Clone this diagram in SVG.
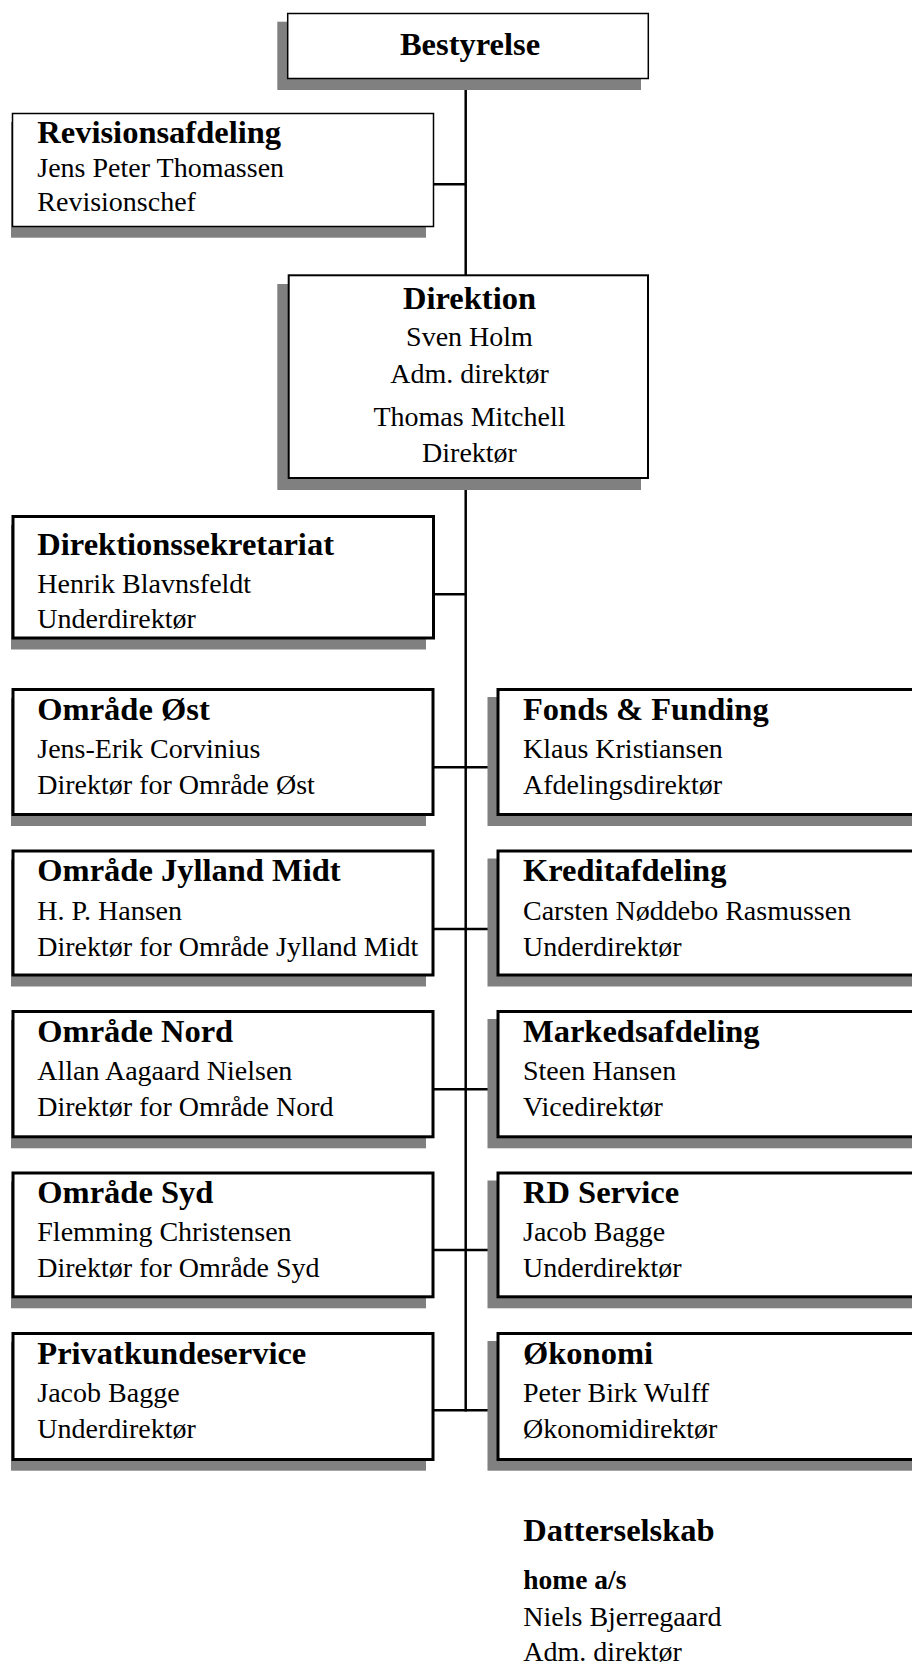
<svg xmlns="http://www.w3.org/2000/svg" width="912" height="1665" viewBox="0 0 912 1665">
<style>
.bg{fill:#ffffff}
.sh{fill:#808080}
.box{fill:#ffffff;stroke:#000000}
.thin{stroke-width:1.5}
.mid{stroke-width:2}
.thick{stroke-width:3}
.conn{stroke:#000000;stroke-width:2.5;fill:none}
text{font-family:"Liberation Serif","Times New Roman",serif;fill:#000000}
.t{font-size:32.5px;font-weight:bold}
.b{font-size:28px}
.hb{font-size:27.5px;font-weight:bold}
.c{text-anchor:middle}
</style>
<rect class="bg" x="0" y="0" width="912" height="1665"/>
<g id="connectors">
<line class="conn" x1="465.7" y1="79" x2="465.7" y2="1411.5"/>
<line class="conn" x1="433" y1="184.3" x2="465.7" y2="184.3"/>
<line class="conn" x1="433" y1="594.3" x2="465.7" y2="594.3"/>
<line class="conn" x1="433" y1="767.3" x2="498" y2="767.3"/>
<line class="conn" x1="433" y1="929" x2="498" y2="929"/>
<line class="conn" x1="433" y1="1089.3" x2="498" y2="1089.3"/>
<line class="conn" x1="433" y1="1250" x2="498" y2="1250"/>
<line class="conn" x1="433" y1="1410.3" x2="498" y2="1410.3"/>
</g>
<g id="bestyrelse">
<rect class="sh" x="277.3" y="21.7" width="363.7" height="68.3"/>
<rect class="box thin" x="287.7" y="13.5" width="360.6" height="65"/>
<text class="t c" x="470" y="55">Bestyrelse</text>
</g>
<g id="revisionsafdeling">
<rect class="sh" x="11" y="122" width="415" height="115.7"/>
<rect class="box thin" x="12.5" y="113.5" width="421" height="113"/>
<text class="t" x="37.3" y="143.3">Revisionsafdeling</text>
<text class="b" x="37.3" y="177.3">Jens Peter Thomassen</text>
<text class="b" x="37.3" y="210.5">Revisionschef</text>
</g>
<g id="direktion">
<rect class="sh" x="277.3" y="284" width="363.7" height="206"/>
<rect class="box mid" x="288.7" y="275.3" width="359.3" height="202.7"/>
<text class="t c" x="469.5" y="309.3">Direktion</text>
<text class="b c" x="469.5" y="346">Sven Holm</text>
<text class="b c" x="469.5" y="382.7">Adm. direktør</text>
<text class="b c" x="469.5" y="426">Thomas Mitchell</text>
<text class="b c" x="469.5" y="461.7">Direktør</text>
</g>
<g id="direktionssekretariat">
<rect class="sh" x="11" y="525" width="415" height="124.5"/>
<rect class="box thick" x="13" y="516.5" width="420.5" height="121.5"/>
<text class="t" x="37.3" y="555">Direktionssekretariat</text>
<text class="b" x="37.3" y="592.7">Henrik Blavnsfeldt</text>
<text class="b" x="37.3" y="628.3">Underdirektør</text>
</g>
<g id="omraade-oest">
<rect class="sh" x="11" y="698" width="415" height="128"/>
<rect class="box thick" x="13" y="689.5" width="420" height="125"/>
<text class="t" x="37.3" y="720">Område Øst</text>
<text class="b" x="37.3" y="758.3">Jens-Erik Corvinius</text>
<text class="b" x="37.3" y="794.3">Direktør for Område Øst</text>
</g>
<g id="fonds-funding">
<rect class="sh" x="487.5" y="697" width="440" height="129"/>
<rect class="box thick" x="498" y="689.5" width="430" height="125"/>
<text class="t" x="523" y="720">Fonds &amp; Funding</text>
<text class="b" x="523" y="758.3">Klaus Kristiansen</text>
<text class="b" x="523" y="794.3">Afdelingsdirektør</text>
</g>
<g id="omraade-jylland-midt">
<rect class="sh" x="11" y="859.5" width="415" height="127"/>
<rect class="box thick" x="13" y="851" width="420" height="124"/>
<text class="t" x="37.3" y="881">Område Jylland Midt</text>
<text class="b" x="37.3" y="919.5">H. P. Hansen</text>
<text class="b" x="37.3" y="955.5">Direktør for Område Jylland Midt</text>
</g>
<g id="kreditafdeling">
<rect class="sh" x="487.5" y="858.5" width="440" height="128"/>
<rect class="box thick" x="498" y="851" width="430" height="124"/>
<text class="t" x="523" y="881">Kreditafdeling</text>
<text class="b" x="523" y="919.5">Carsten Nøddebo Rasmussen</text>
<text class="b" x="523" y="955.5">Underdirektør</text>
</g>
<g id="omraade-nord">
<rect class="sh" x="11" y="1020" width="415" height="128.3"/>
<rect class="box thick" x="13" y="1011.5" width="420" height="125.3"/>
<text class="t" x="37.3" y="1042">Område Nord</text>
<text class="b" x="37.3" y="1080">Allan Aagaard Nielsen</text>
<text class="b" x="37.3" y="1116">Direktør for Område Nord</text>
</g>
<g id="markedsafdeling">
<rect class="sh" x="487.5" y="1019" width="440" height="129.3"/>
<rect class="box thick" x="498" y="1011.5" width="430" height="125.3"/>
<text class="t" x="523" y="1042">Markedsafdeling</text>
<text class="b" x="523" y="1080">Steen Hansen</text>
<text class="b" x="523" y="1116">Vicedirektør</text>
</g>
<g id="omraade-syd">
<rect class="sh" x="11" y="1181.5" width="415" height="126.8"/>
<rect class="box thick" x="13" y="1173" width="420" height="123.8"/>
<text class="t" x="37.3" y="1203">Område Syd</text>
<text class="b" x="37.3" y="1241">Flemming Christensen</text>
<text class="b" x="37.3" y="1277">Direktør for Område Syd</text>
</g>
<g id="rd-service">
<rect class="sh" x="487.5" y="1180.5" width="440" height="127.8"/>
<rect class="box thick" x="498" y="1173" width="430" height="123.8"/>
<text class="t" x="523" y="1203">RD Service</text>
<text class="b" x="523" y="1241">Jacob Bagge</text>
<text class="b" x="523" y="1277">Underdirektør</text>
</g>
<g id="privatkundeservice">
<rect class="sh" x="11" y="1342" width="415" height="128.7"/>
<rect class="box thick" x="13" y="1333.5" width="420" height="126"/>
<text class="t" x="37.3" y="1363.5">Privatkundeservice</text>
<text class="b" x="37.3" y="1401.5">Jacob Bagge</text>
<text class="b" x="37.3" y="1437.5">Underdirektør</text>
</g>
<g id="oekonomi">
<rect class="sh" x="487.5" y="1341" width="440" height="129.7"/>
<rect class="box thick" x="498" y="1333.5" width="430" height="126"/>
<text class="t" x="523" y="1363.5">Økonomi</text>
<text class="b" x="523" y="1401.5">Peter Birk Wulff</text>
<text class="b" x="523" y="1437.5">Økonomidirektør</text>
</g>
<g id="datterselskab">
<text class="t" x="523.3" y="1540.7">Datterselskab</text>
<text class="hb" x="523.3" y="1589.3">home a/s</text>
<text class="b" x="523.3" y="1626">Niels Bjerregaard</text>
<text class="b" x="523.3" y="1661">Adm. direktør</text>
</g>
</svg>
